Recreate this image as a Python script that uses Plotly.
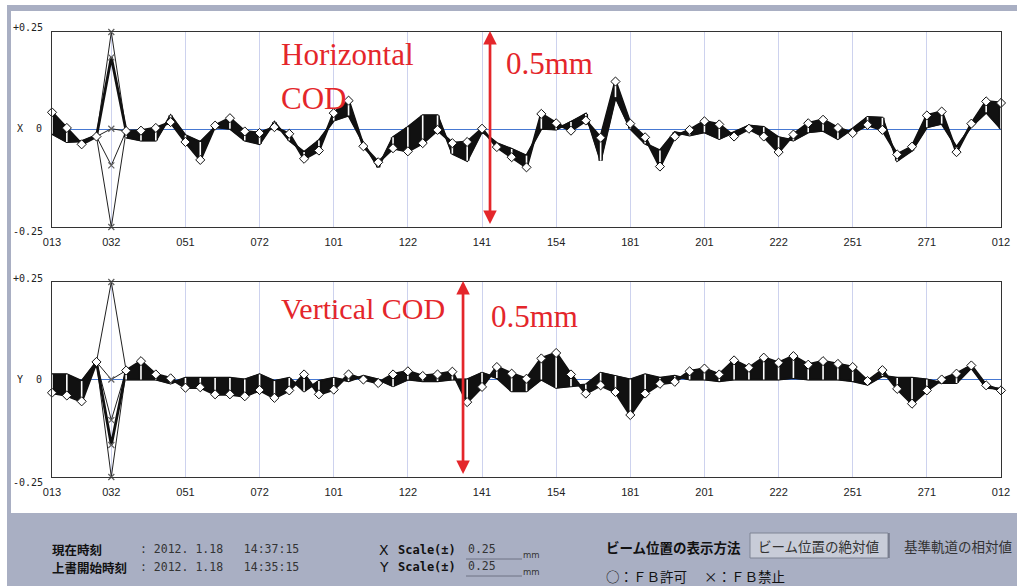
import numpy as np
import plotly.graph_objects as go

W, H = 1017, 586

# ---------------------------------------------------------------- data
bpm_labels = ["013", "032", "051", "072", "101", "122", "141",
              "154", "181", "201", "222", "251", "271", "012"]
label_index = [0, 4, 9, 14, 19, 24, 29, 34, 39, 44, 49, 54, 59, 64]
spike_idx = 4  # monitor with feedback inhibited (drawn with x marks)

# horizontal COD [mm]: latest orbit and oldest orbit of the overwrite window
x_now = [0.044, 0.004, -0.038, -0.018, 0.185, -0.004, -0.003, 0.004, 0.019, -0.032,
         -0.078, 0.010, 0.029, -0.005, -0.009, 0.006, -0.011, -0.075, -0.054, 0.042,
         0.074, -0.043, -0.084, -0.048, -0.056, -0.035, -0.001, -0.035, -0.032, 0.002,
         -0.045, -0.071, -0.097, 0.040, 0.016, -0.003, 0.023, -0.021, 0.123, 0.015,
         -0.020, -0.095, -0.018, -0.001, 0.021, 0.013, -0.018, 0.002, -0.018, -0.058,
         -0.013, 0.016, 0.025, 0.004, -0.009, 0.012, -0.001, -0.064, -0.044, 0.036,
         0.046, -0.058, 0.015, 0.072, 0.068]
x_prev = [-0.011, -0.032, -0.030, -0.015, 0.185, -0.020, -0.028, -0.028, 0.036, -0.015,
          -0.032, 0.006, 0.002, -0.028, -0.037, 0.019, -0.028, -0.058, -0.028, 0.023,
          0.036, -0.035, -0.097, -0.020, 0.006, 0.036, 0.036, -0.062, -0.080, -0.005,
          -0.035, -0.050, -0.067, 0.002, 0.000, 0.019, 0.040, -0.080, 0.083, 0.002,
          -0.036, -0.054, -0.007, -0.015, -0.007, -0.024, -0.007, 0.010, 0.006, -0.020,
          -0.028, -0.007, -0.003, -0.024, 0.002, 0.032, 0.030, -0.080, -0.054, 0.006,
          0.015, -0.045, 0.008, 0.044, 0.002]
x_spike = [0.25, 0.185, 0.002, -0.092, -0.25]

# vertical COD [mm]
y_now = [-0.034, -0.041, -0.056, 0.045, -0.168, 0.023, 0.047, 0.013, 0.003, -0.021,
         -0.020, -0.038, -0.038, -0.043, -0.027, -0.047, -0.028, 0.013, -0.038, -0.026,
         0.013, 0.000, -0.009, 0.013, 0.021, 0.009, 0.013, 0.020, -0.058, -0.019,
         0.032, 0.015, 0.002, 0.054, 0.068, 0.013, -0.036, -0.015, -0.032, -0.091,
         -0.036, -0.011, -0.006, 0.021, 0.028, 0.013, 0.049, 0.030, 0.056, 0.043,
         0.060, 0.038, 0.047, 0.040, 0.032, -0.004, 0.024, -0.024, -0.062, -0.028,
         0.000, 0.015, 0.036, -0.015, -0.028]
y_prev = [0.013, 0.013, -0.004, 0.045, -0.168, 0.000, 0.000, 0.000, -0.010, 0.004,
          0.004, 0.004, 0.004, 0.000, 0.013, -0.004, 0.004, -0.030, -0.004, 0.004,
          -0.004, 0.009, 0.000, -0.017, 0.000, -0.004, -0.004, 0.000, 0.000, 0.017,
          0.004, -0.030, -0.030, 0.000, -0.021, -0.017, -0.013, 0.017, 0.009, 0.000,
          0.013, 0.004, 0.009, 0.000, 0.000, -0.004, 0.000, 0.000, 0.000, 0.000,
          0.004, 0.000, 0.000, 0.000, -0.004, -0.013, 0.009, 0.004, 0.004, 0.000,
          -0.009, -0.009, 0.030, -0.021, -0.024]
y_spike = [0.25, 0.0, -0.104, -0.168, -0.25]

scale_mm = 0.25

# ---------------------------------------------------------------- colours
BG = "#A9AFC3"
RED = "#E4262B"
INK = "#111111"


def px(x):
    return x / W


def py(y):
    return 1 - y / H


fig = go.Figure()


def add_plane(now, prev, spike, xa, ya):
    now = np.asarray(now, float)
    prev = np.asarray(prev, float)
    idx = np.arange(len(now))
    keep = idx != spike_idx

    # black band swept by the orbit history (one polygon each side of the spike)
    for seg in (idx[:spike_idx], idx[spike_idx + 1:]):
        fig.add_trace(go.Scatter(
            x=np.concatenate([seg, seg[::-1]]),
            y=np.concatenate([now[seg], prev[seg][::-1]]),
            mode="lines", fill="toself", fillcolor=INK,
            line=dict(color=INK, width=1.5),
            xaxis=xa, yaxis=ya, hoverinfo="skip", showlegend=False))

    # oldest orbit edge
    px_prev = np.where(keep, prev, np.nan)
    fig.add_trace(go.Scatter(x=idx, y=px_prev, mode="lines",
                             line=dict(color=INK, width=2.2), connectgaps=False,
                             xaxis=xa, yaxis=ya, hoverinfo="skip", showlegend=False))

    # excursions recorded at the inhibited monitor
    sx, sy = [], []
    for v in spike:
        if v == now[spike_idx]:
            continue
        sx += [spike_idx - 1, spike_idx, spike_idx + 1, None]
        sy += [now[spike_idx - 1], v, now[spike_idx + 1], None]
    fig.add_trace(go.Scatter(x=sx, y=sy, mode="lines",
                             line=dict(color="#202020", width=1),
                             xaxis=xa, yaxis=ya, hoverinfo="skip", showlegend=False))

    # latest orbit
    fig.add_trace(go.Scatter(x=idx, y=now, mode="lines",
                             line=dict(color=INK, width=2.8),
                             xaxis=xa, yaxis=ya, hoverinfo="skip", showlegend=False))

    # per-monitor spread bars (white with black rim)
    bx, by = [], []
    for i in idx[keep]:
        if abs(now[i] - prev[i]) < 0.004:
            continue
        bx += [i, i, None]
        by += [prev[i], now[i], None]
    fig.add_trace(go.Scatter(x=bx, y=by, mode="lines", line=dict(color=INK, width=4.5),
                             xaxis=xa, yaxis=ya, hoverinfo="skip", showlegend=False))
    fig.add_trace(go.Scatter(x=bx, y=by, mode="lines", line=dict(color="white", width=1.6),
                             xaxis=xa, yaxis=ya, hoverinfo="skip", showlegend=False))

    # x marks: FB inhibited
    fig.add_trace(go.Scatter(x=[spike_idx] * len(spike), y=spike, mode="markers",
                             marker=dict(symbol="x-thin-open", size=6, color="#606060",
                                         line=dict(color="#606060", width=1.2)),
                             cliponaxis=False,
                             xaxis=xa, yaxis=ya, hoverinfo="skip", showlegend=False))

    # diamonds: FB permitted
    fig.add_trace(go.Scatter(x=idx[keep], y=now[keep], mode="markers",
                             marker=dict(symbol="diamond", size=7, color="white",
                                         line=dict(color=INK, width=1)),
                             cliponaxis=False,
                             xaxis=xa, yaxis=ya, hoverinfo="skip", showlegend=False))


add_plane(x_now, x_prev, x_spike, "x", "y")
add_plane(y_now, y_prev, y_spike, "x2", "y2")

# ---------------------------------------------------------------- axes
x_dom = [px(52), px(1001)]
xcommon = dict(range=[0, 64], tickvals=label_index, ticktext=bpm_labels,
               showgrid=True, gridcolor="#CDD2EE", gridwidth=1,
               showline=True, mirror=True, linecolor="#333333", linewidth=1,
               ticks="", zeroline=False, ticklabelstandoff=5, automargin=False,
               tickfont=dict(family="Liberation Sans", size=11, color="#222222"),
               fixedrange=True)
ycommon = dict(range=[-scale_mm, scale_mm], showticklabels=False, showgrid=False,
               zeroline=True, zerolinecolor="#4678D2", zerolinewidth=1.2,
               showline=True, mirror=True, linecolor="#333333", linewidth=1,
               ticks="", fixedrange=True, automargin=False)

fig.update_layout(
    xaxis=dict(domain=x_dom, anchor="y", **xcommon),
    yaxis=dict(domain=[py(227), py(32)], anchor="x", **ycommon),
    xaxis2=dict(domain=x_dom, anchor="y2", **xcommon),
    yaxis2=dict(domain=[py(477), py(282)], anchor="x2", **ycommon),
)

# ---------------------------------------------------------------- frame
shapes = [
    dict(type="rect", xref="paper", yref="paper", x0=0, x1=1, y0=0, y1=1,
         fillcolor=BG, line=dict(width=0), layer="below"),
    dict(type="rect", xref="paper", yref="paper", x0=0, x1=px(7), y0=0, y1=1,
         fillcolor="white", line=dict(width=0), layer="below"),
    dict(type="rect", xref="paper", yref="paper", x0=0, x1=1, y0=py(5), y1=1,
         fillcolor="white", line=dict(width=0), layer="below"),
    dict(type="rect", xref="paper", yref="paper", x0=px(11), x1=1, y0=py(513), y1=py(11),
         fillcolor="white", line=dict(width=0), layer="below"),
    # display-mode buttons
    dict(type="rect", xref="paper", yref="paper", x0=px(750), x1=px(888), y0=py(558), y1=py(533),
         fillcolor="#C8CCD8", line=dict(color="#7E8494", width=1), layer="below"),
    dict(type="line", xref="paper", yref="paper", x0=px(889), x1=px(889), y0=py(558), y1=py(533),
         line=dict(color="#5A5F6E", width=1)),
    # scale entry fields
    dict(type="line", xref="paper", yref="paper", x0=px(466), x1=px(522), y0=py(559), y1=py(559),
         line=dict(color="#6E7384", width=1)),
    dict(type="line", xref="paper", yref="paper", x0=px(466), x1=px(522), y0=py(576), y1=py(576),
         line=dict(color="#6E7384", width=1)),
]
fig.update_layout(shapes=shapes)

# ---------------------------------------------------------------- text
ann = []


def label(x, y, text, size, family="DejaVu Sans Mono", color="#222222", anchor="left"):
    ann.append(dict(x=px(x), y=py(y), xref="paper", yref="paper", text=text,
                    showarrow=False, xanchor=anchor, yanchor="middle",
                    font=dict(family=family, size=size, color=color)))


# scale labels beside the plots
for top, mid, bot, name in ((27, 128, 231, "X"), (278, 379, 482, "Y")):
    label(11, top, "+0.25", 10)
    label(11, bot, "-0.25", 10)
    label(20, mid, name, 10, anchor="center")
    label(39, mid, "0", 10, anchor="center")

# red explanatory notes
serif = "Liberation Serif"
label(279, 55, "Horizontal", 31, serif, RED)
label(279, 99, "COD", 31, serif, RED)
label(504, 63, "0.5mm", 31, serif, RED)
label(279, 308, "Vertical COD", 30, serif, RED)
label(489, 316, "0.5mm", 31, serif, RED)

# 0.5 mm double arrows spanning the full scale
for xa, ya, xpos in (("x", "y", 29.54), ("x2", "y2", 27.72)):
    ann.append(dict(x=xpos, y=scale_mm * 1.01, ax=xpos, ay=-scale_mm * 0.985,
                    xref=xa, yref=ya, axref=xa, ayref=ya, text="",
                    showarrow=True, arrowhead=2, arrowside="end+start",
                    arrowsize=1.0, arrowwidth=2.7, arrowcolor=RED))

# status panel
jp = "Noto Sans CJK JP"
label(50, 549, "<b>現在時刻</b>", 12.5, jp, "#111111")
label(50, 567, "<b>上書開始時刻</b>", 12.5, jp, "#111111")
label(138, 549, ": 2012. 1.18   14:37:15", 11.5, color="#333333")
label(138, 567, ": 2012. 1.18   14:35:15", 11.5, color="#333333")
for yy, name in ((550, "X"), (567, "Y")):
    label(377, yy, name, 14, "DejaVu Sans", "#111111")
    label(396, yy, "<b>Scale(±)</b>", 12, color="#111111")
    label(466, yy - 1, "0.25", 11.5, color="#333333")
    label(521, yy + 5, "mm", 8.5, "DejaVu Sans", "#333333")

label(604, 547, "<b>ビーム位置の表示方法</b>", 13.5, jp, "#111111")
label(756, 546, "ビーム位置の絶対値", 13.5, jp, "#333333")
label(902, 546, "基準軌道の相対値", 13.5, jp, "#333333")
label(604, 576, "○：ＦＢ許可", 13.5, jp, "#111111")
label(702, 576, "×：ＦＢ禁止", 13.5, jp, "#111111")

fig.update_layout(
    annotations=ann,
    width=W, height=H, autosize=False,
    margin=dict(l=0, r=0, t=0, b=0),
    paper_bgcolor=BG, plot_bgcolor="white",
    showlegend=False,
)

fig.write_html("out.html", config={"displayModeBar": False})
